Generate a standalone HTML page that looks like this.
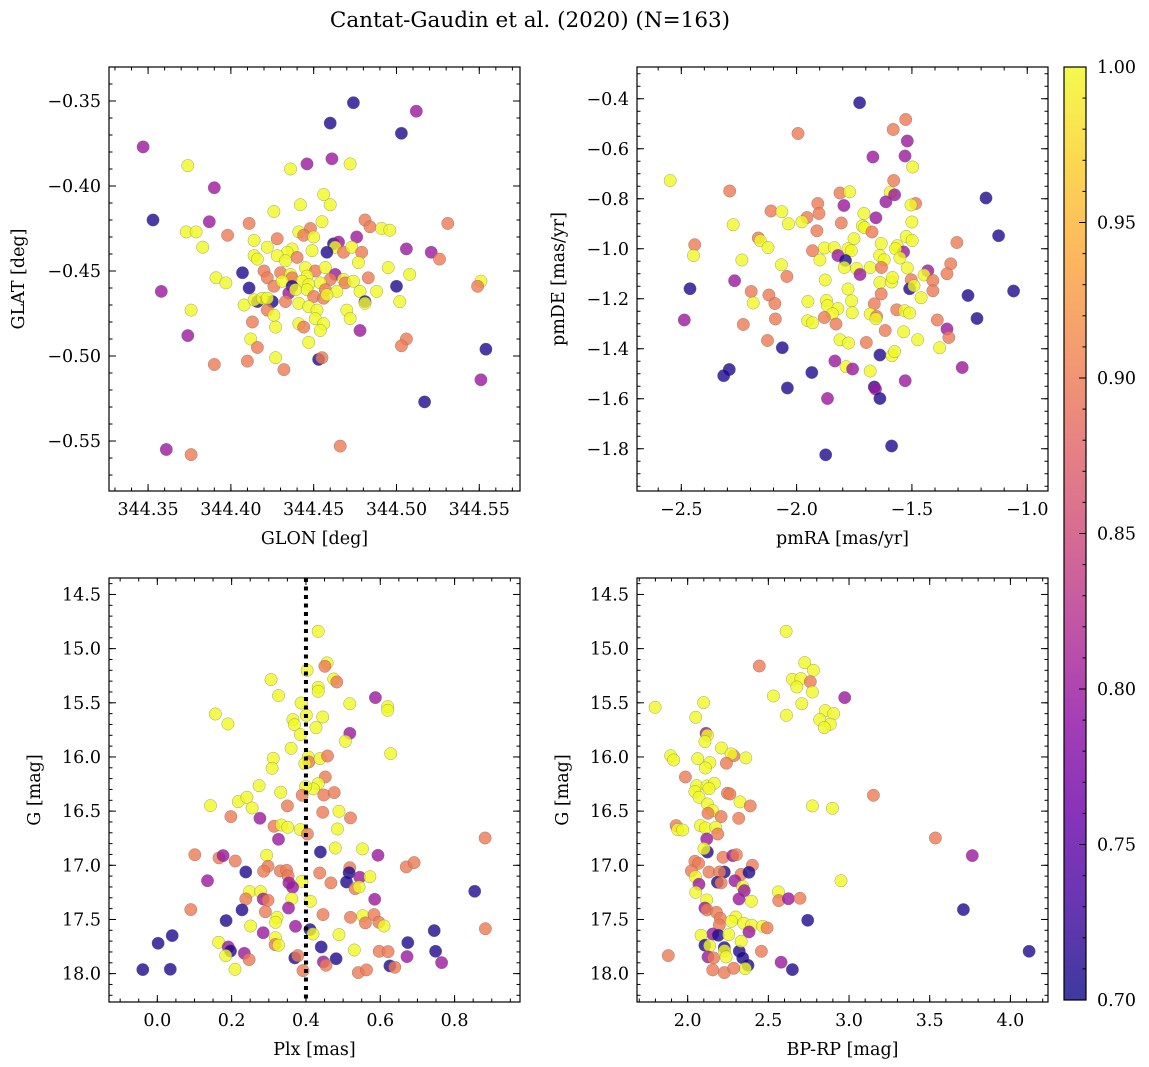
<!DOCTYPE html>
<html><head><meta charset="utf-8"><style>
html,body{margin:0;padding:0;background:#fff;}
svg{display:block;font-family:"DejaVu Serif","Liberation Serif",serif;}
</style></head><body>
<svg id="fig" xmlns="http://www.w3.org/2000/svg" width="1149" height="1067" viewBox="0 0 1149 1067">
<rect width="1149" height="1067" fill="#fff"/>
<text x="530" y="27" font-size="21.5" text-anchor="middle">Cantat-Gaudin et al. (2020) (N=163)</text>
<g id="layer"></g>
</svg>
<script>
// ---- Panel 1: GLON / GLAT ----
const p1Glon = [344.474,344.512,344.460,344.503,344.347,344.374,344.446,344.461,344.436,344.472,344.390,344.456,344.460,344.442,344.426,344.353,344.387,344.411,344.455,344.481,344.484,344.531,344.373,344.379,344.398,344.448,344.441,344.444,344.450,344.491,344.496,344.476,344.383,344.414,344.428,344.422,344.462,344.465,344.463,344.458,344.468,344.473,344.479,344.506,344.521,344.526,344.437,344.434,344.449,344.414,344.416,344.428,344.433,344.440,344.477,344.495,344.407,344.420,344.422,344.430,344.436,344.445,344.451,344.457,344.446,344.437,344.443,344.391,344.397,344.463,344.468,344.460,344.469,344.474,344.483,344.508,344.551,344.549,344.411,344.358,344.426,344.431,344.437,344.447,344.454,344.457,344.446,344.464,344.478,344.488,344.500,344.435,344.439,344.450,344.456,344.458,344.416,344.425,344.408,344.414,344.419,344.422,344.433,344.441,344.447,344.481,344.481,344.502,344.422,344.452,344.470,344.376,344.426,344.451,344.472,344.413,344.427,344.441,344.444,344.456,344.454,344.374,344.478,344.412,344.416,344.447,344.506,344.503,344.554,344.390,344.410,344.427,344.453,344.455,344.432,344.551,344.517,344.361,344.376,344.466];
const p1Glat = [-0.351,-0.356,-0.363,-0.369,-0.377,-0.388,-0.387,-0.384,-0.390,-0.387,-0.401,-0.405,-0.411,-0.411,-0.415,-0.420,-0.421,-0.422,-0.421,-0.420,-0.424,-0.422,-0.427,-0.427,-0.429,-0.425,-0.427,-0.429,-0.430,-0.425,-0.426,-0.430,-0.436,-0.432,-0.431,-0.436,-0.434,-0.433,-0.436,-0.439,-0.439,-0.436,-0.439,-0.437,-0.439,-0.443,-0.437,-0.439,-0.438,-0.441,-0.443,-0.441,-0.444,-0.442,-0.445,-0.448,-0.451,-0.450,-0.454,-0.451,-0.452,-0.448,-0.450,-0.448,-0.453,-0.454,-0.456,-0.454,-0.457,-0.452,-0.455,-0.455,-0.457,-0.456,-0.454,-0.452,-0.456,-0.459,-0.460,-0.462,-0.459,-0.456,-0.459,-0.458,-0.457,-0.461,-0.461,-0.462,-0.462,-0.462,-0.459,-0.463,-0.461,-0.465,-0.466,-0.464,-0.468,-0.468,-0.470,-0.467,-0.466,-0.466,-0.468,-0.469,-0.471,-0.468,-0.469,-0.468,-0.473,-0.473,-0.473,-0.473,-0.476,-0.478,-0.478,-0.480,-0.483,-0.481,-0.483,-0.481,-0.485,-0.488,-0.485,-0.490,-0.495,-0.492,-0.490,-0.494,-0.496,-0.505,-0.503,-0.501,-0.502,-0.501,-0.508,-0.514,-0.527,-0.555,-0.558,-0.553];
const p1Prob = [.71,.80,.71,.71,.80,1,.80,.80,1,1,.80,1,1,1,1,.71,.80,.90,1,.90,.90,.90,1,1,.90,.90,1,.90,1,1,1,.80,1,1,.90,1,.71,.80,1,.71,.90,1,.90,.80,.80,.90,1,1,1,1,1,1,1,.90,1,1,.71,.90,.90,.90,1,1,.90,1,1,.90,1,1,1,.80,1,.90,.90,1,.90,1,1,.90,.71,.80,.90,1,.71,1,1,.90,1,1,1,1,.71,.80,1,.90,.90,1,.71,.71,1,1,1,1,.90,1,1,.71,1,1,.90,1,1,1,1,1,1,.90,1,1,.90,1,1,.80,.80,1,.90,1,.90,.90,.71,.90,.90,1,.71,.90,.90,.80,.71,.80,.90,.90];
const p1XTicks = [344.35,344.40,344.45,344.50,344.55];
const p1YTicks = [-0.35,-0.40,-0.45,-0.50,-0.55];

// ---- Panel 2: pmRA / pmDE ----
const p2PmRA = [-1.727,-1.527,-1.581,-1.994,-1.520,-1.669,-1.530,-1.497,-2.548,-1.579,-2.290,-1.812,-1.770,-1.594,-1.575,-1.613,-1.179,-1.908,-1.795,-1.484,-1.504,-2.111,-2.064,-1.903,-1.708,-1.955,-1.977,-2.035,-2.275,-1.806,-1.656,-1.500,-1.715,-1.705,-1.673,-1.912,-1.124,-2.442,-2.447,-2.166,-2.158,-2.124,-1.751,-1.633,-1.305,-1.525,-1.499,-1.564,-1.931,-1.879,-1.837,-1.777,-1.763,-1.536,-1.571,-1.640,-1.620,-1.552,-1.821,-1.788,-1.899,-2.237,-2.066,-1.793,-1.740,-1.681,-1.632,-1.520,-1.431,-1.447,-1.332,-1.348,-2.042,-1.725,-1.876,-1.639,-1.588,-1.584,-1.503,-1.409,-1.409,-2.462,-2.269,-1.510,-1.491,-1.460,-1.059,-1.257,-2.197,-2.120,-1.777,-1.633,-2.188,-2.094,-1.951,-1.871,-1.866,-1.821,-1.762,-1.759,-1.663,-1.566,-1.532,-1.510,-1.681,-1.653,-1.656,-1.845,-1.880,-1.952,-1.931,-2.092,-2.231,-2.487,-1.829,-1.390,-1.218,-1.348,-1.616,-1.536,-1.340,-2.126,-1.812,-1.775,-1.698,-1.475,-1.380,-2.062,-1.639,-1.587,-1.575,-1.834,-2.292,-2.316,-1.786,-1.757,-1.934,-1.681,-1.282,-2.040,-1.663,-1.658,-1.529,-1.866,-1.639,-1.588,-1.874];
const p2PmDE = [-0.416,-0.483,-0.523,-0.539,-0.569,-0.633,-0.629,-0.673,-0.727,-0.727,-0.769,-0.777,-0.772,-0.775,-0.784,-0.812,-0.797,-0.819,-0.827,-0.819,-0.825,-0.849,-0.852,-0.859,-0.859,-0.875,-0.892,-0.900,-0.904,-0.897,-0.876,-0.893,-0.909,-0.916,-0.933,-0.928,-0.948,-0.984,-1.027,-0.957,-0.968,-0.995,-0.960,-0.979,-0.975,-0.951,-0.967,-0.988,-1.008,-0.997,-0.996,-1.000,-1.008,-1.013,-1.000,-1.027,-1.044,-1.037,-1.027,-1.047,-1.045,-1.045,-1.064,-1.075,-1.079,-1.075,-1.075,-1.077,-1.088,-1.105,-1.060,-1.100,-1.111,-1.103,-1.125,-1.135,-1.133,-1.115,-1.124,-1.127,-1.168,-1.160,-1.128,-1.160,-1.148,-1.196,-1.169,-1.187,-1.171,-1.185,-1.161,-1.181,-1.217,-1.219,-1.211,-1.207,-1.228,-1.239,-1.208,-1.256,-1.220,-1.244,-1.248,-1.257,-1.261,-1.271,-1.280,-1.260,-1.275,-1.288,-1.296,-1.281,-1.303,-1.285,-1.301,-1.285,-1.279,-1.321,-1.327,-1.332,-1.355,-1.367,-1.364,-1.377,-1.375,-1.364,-1.396,-1.396,-1.425,-1.428,-1.411,-1.449,-1.483,-1.508,-1.472,-1.481,-1.495,-1.489,-1.475,-1.557,-1.553,-1.561,-1.528,-1.599,-1.599,-1.789,-1.824];
const p2Prob = [.71,.90,.90,.90,.80,.80,.80,1,1,.90,.90,.90,1,1,.80,.80,.71,.90,.80,.90,1,.90,1,.90,1,.90,1,1,1,.90,.80,1,1,1,.90,.90,.71,.90,1,.90,1,1,1,1,.90,1,1,1,.90,1,1,1,1,.80,1,1,1,1,.80,.71,1,1,1,1,1,1,.90,1,.80,1,.90,.90,.90,.80,1,1,1,1,.90,.90,.90,.71,.80,.71,1,1,.71,.71,.90,.90,1,.90,1,.90,1,1,1,1,1,1,.90,.90,1,1,1,.90,1,1,.90,1,1,.90,.90,.80,.90,.90,.71,.80,.90,1,.90,.90,1,1,.90,1,1,.71,.71,1,1,.80,.71,.71,1,.80,.71,1,.80,.71,.71,.80,.80,.80,.71,.71,.71];
const p2XTicks = [-2.5,-2.0,-1.5,-1.0];
const p2YTicks = [-0.4,-0.6,-0.8,-1.0,-1.2,-1.4,-1.6,-1.8];

// ---- Panel 3: Plx / G ----
const p3Plx = [0.433,0.457,0.451,0.403,0.306,0.475,0.483,0.433,0.433,0.326,0.587,0.387,0.518,0.620,0.620,0.156,0.401,0.445,0.190,0.365,0.369,0.427,0.385,0.518,0.506,0.360,0.628,0.312,0.309,0.406,0.408,0.438,0.458,0.397,0.452,0.433,0.420,0.399,0.274,0.332,0.448,0.476,0.390,0.143,0.218,0.241,0.255,0.350,0.445,0.489,0.198,0.276,0.520,0.314,0.334,0.351,0.385,0.404,0.485,0.326,0.882,0.439,0.479,0.552,0.594,0.101,0.166,0.177,0.210,0.294,0.298,0.286,0.238,0.331,0.348,0.352,0.437,0.518,0.516,0.670,0.691,0.135,0.389,0.467,0.509,0.545,0.572,0.354,0.364,0.532,0.543,0.854,0.248,0.278,0.238,0.285,0.298,0.362,0.412,0.585,0.090,0.228,0.291,0.353,0.446,0.520,0.553,0.560,0.583,0.596,0.610,0.322,0.318,0.185,0.251,0.372,0.411,0.419,0.285,0.745,0.883,0.040,0.002,0.165,0.318,0.317,0.326,0.489,0.441,0.530,0.674,0.749,0.597,0.621,0.191,0.197,0.184,0.234,0.247,0.370,0.378,0.481,0.447,0.454,0.672,0.765,0.626,0.639,-0.039,0.035,0.209,0.392,0.541,0.563];
const p3G = [14.840,15.132,15.163,15.200,15.286,15.280,15.308,15.357,15.394,15.434,15.452,15.502,15.508,15.535,15.569,15.603,15.615,15.631,15.695,15.655,15.702,15.729,15.794,15.782,15.855,15.920,15.969,16.012,16.105,16.000,16.046,16.015,15.991,16.062,16.185,16.246,16.295,16.274,16.265,16.326,16.351,16.329,16.354,16.449,16.412,16.372,16.471,16.452,16.511,16.502,16.551,16.566,16.563,16.640,16.628,16.649,16.671,16.711,16.665,16.760,16.748,16.877,16.840,16.849,16.908,16.902,16.932,16.911,16.960,16.908,17.009,17.055,17.062,17.052,17.046,17.098,17.071,17.022,17.068,17.015,16.975,17.142,17.148,17.163,17.154,17.111,17.105,17.163,17.203,17.215,17.200,17.240,17.243,17.243,17.311,17.311,17.323,17.308,17.332,17.314,17.409,17.412,17.428,17.394,17.455,17.480,17.465,17.532,17.455,17.526,17.560,17.480,17.526,17.511,17.560,17.563,17.594,17.634,17.622,17.603,17.585,17.649,17.720,17.711,17.668,17.732,17.738,17.640,17.754,17.782,17.714,17.794,17.794,17.797,17.754,17.791,17.834,17.812,17.871,17.855,17.834,17.862,17.892,17.923,17.843,17.898,17.929,17.942,17.963,17.960,17.960,17.972,17.991,17.966];
const p3Prob = [1,1,.90,1,1,1,.90,1,1,1,.80,1,1,1,1,1,1,1,1,1,1,1,1,.80,1,1,1,1,1,1,.90,1,.90,1,.90,1,1,1,1,1,.90,.90,.90,1,1,1,1,.90,.90,1,.90,.80,.90,.90,1,1,1,.90,1,.80,.90,.71,1,1,.80,.90,.90,.80,.90,1,.90,.90,.71,.90,.90,.90,.90,.90,.71,.90,.90,.80,1,.90,.71,.80,1,.80,.80,.90,1,.71,1,1,.90,.80,.90,1,1,.80,.90,.71,.90,.80,.90,.90,1,.90,.90,.90,1,1,1,.71,1,.80,.71,1,.80,.71,.90,.71,.71,1,1,.90,1,1,.71,1,.71,.71,.90,.90,.80,.71,1,.80,.90,.71,.90,.71,.80,.90,.80,.80,.71,.90,.71,.71,1,.90,.90,.90];
const p3XTicks = [0.0,0.2,0.4,0.6,0.8];
const p3YTicks = [14.5,15.0,15.5,16.0,16.5,17.0,17.5,18.0];
const p3PlxRef = [0.4];

// ---- Panel 4: BP-RP / G ----
const p4Color = [2.610,2.444,2.725,2.779,2.649,2.702,2.760,2.676,2.773,2.531,2.973,1.798,2.099,2.707,2.612,2.853,2.905,2.818,2.884,2.847,2.050,2.114,2.122,2.107,2.209,2.285,2.269,2.360,1.895,1.913,2.062,2.138,2.110,2.240,1.986,2.056,2.120,2.165,2.045,2.070,2.132,2.246,2.262,2.324,2.388,2.122,2.155,2.126,2.207,2.316,3.151,2.773,2.897,1.928,1.938,1.969,2.079,2.110,2.174,2.186,2.118,2.122,2.101,2.219,2.279,2.302,2.045,2.068,2.023,2.132,2.227,2.198,2.401,2.331,2.380,2.048,2.070,2.184,2.207,2.293,2.341,2.351,2.050,2.118,2.318,2.395,2.107,2.120,2.178,2.202,2.196,2.298,2.271,2.347,2.397,2.465,2.492,2.380,2.155,2.190,2.083,2.254,2.744,2.562,2.564,2.624,2.696,2.950,3.535,3.764,3.709,4.116,2.107,2.136,2.227,2.229,2.320,2.331,2.457,2.126,2.161,2.238,2.341,2.374,2.357,2.155,2.227,2.285,1.880,2.579,2.649];
const p4G = [14.840,15.160,15.129,15.200,15.283,15.277,15.305,15.354,15.400,15.437,15.452,15.542,15.498,15.508,15.615,15.572,15.600,15.655,15.698,15.729,15.634,15.782,15.800,15.858,15.917,15.988,15.972,16.009,15.988,16.028,16.015,16.052,16.102,16.058,16.185,16.265,16.268,16.243,16.320,16.372,16.292,16.335,16.342,16.415,16.452,16.434,16.495,16.520,16.551,16.566,16.354,16.452,16.474,16.634,16.671,16.674,16.634,16.655,16.649,16.711,16.757,16.877,16.846,16.926,16.911,16.902,16.963,16.982,17.052,17.062,17.062,17.062,17.000,17.083,17.065,17.105,17.175,17.157,17.163,17.142,17.197,17.234,17.249,17.320,17.311,17.332,17.394,17.412,17.434,17.489,17.551,17.477,17.517,17.535,17.554,17.563,17.578,17.615,17.634,17.646,17.646,17.640,17.508,17.246,17.326,17.308,17.305,17.142,16.748,16.911,17.409,17.794,17.738,17.742,17.760,17.788,17.794,17.702,17.794,17.846,17.855,17.846,17.855,17.923,17.954,17.966,17.991,17.951,17.834,17.895,17.963];
const p4Prob = [1,.90,1,1,1,1,.90,1,1,1,.80,1,1,1,1,1,1,1,1,1,1,.80,1,1,1,.90,1,1,1,1,1,1,1,.90,.90,1,1,1,1,1,1,.90,.90,1,.90,1,1,.90,.90,.90,.90,1,1,.90,1,1,1,1,1,.90,.80,.71,1,.90,.80,.90,.90,.90,.90,.90,.71,.90,.90,.90,.71,1,.80,.71,.90,.80,1,.80,1,1,.80,1,.80,.90,.90,.90,.90,1,1,1,1,1,.90,.80,.80,.71,1,1,.71,1,.90,.80,.90,1,.90,.80,.71,.71,.71,1,.71,1,.71,1,.90,.80,.90,1,.71,.71,1,.90,.90,.90,.90,.80,.71];
const p4XTicks = [2.0,2.5,3.0,3.5,4.0];
const p4YTicks = [14.5,15.0,15.5,16.0,16.5,17.0,17.5,18.0];

// ---- Colorbar ----
const cbTicks = [0.70,0.75,0.80,0.85,0.90,0.95,1.00];

const NS = 'http://www.w3.org/2000/svg';
const layer = document.getElementById('layer');
const plasma = ['#0d0887','#41049d','#6a00a8','#8f0da4','#b12a90','#cc4778','#e16462','#f2844b','#fca636','#fcce25','#f0f921'];
function hex(c){return [parseInt(c.slice(1,3),16),parseInt(c.slice(3,5),16),parseInt(c.slice(5,7),16)];}
function cmap(p){
  let t=(p-0.7)/0.3; t=Math.max(0,Math.min(1,t));
  const f=t*10, i=Math.min(9,Math.floor(f)), r=f-i;
  const a=hex(plasma[i]), b=hex(plasma[i+1]);
  return 'rgb('+a.map((v,k)=>Math.round(v+(b[k]-v)*r)).join(',')+')';
}
function mk(tag, attrs, parent){
  const e=document.createElementNS(NS,tag);
  for(const k in attrs) e.setAttribute(k,attrs[k]);
  (parent||layer).appendChild(e); return e;
}
function fmt(v,d){return (v<0?'\u2212':'')+Math.abs(v).toFixed(d);}

function panel(c){
  const g=mk('g',{});
  
  
  const sx=v=>c.left+(v-c.x0)/(c.x1-c.x0)*c.w;
  const sy=v=>c.top+(v-c.y0)/(c.y1-c.y0)*c.h;
  const pts=mk('g',{},g);
  
  
  const n=Math.min(c.xs.length,c.ys.length,c.ps.length);
  for(let i=0;i<n;i++){
    const cx=sx(c.xs[i]), cy=sy(c.ys[i]);
    const dot=mk('circle',{cx:cx.toFixed(1),cy:cy.toFixed(1),r:6.2,fill:cmap(c.ps[i]),'fill-opacity':0.8,stroke:'#666','stroke-opacity':0.6,'stroke-width':0.5},pts);
    
    
  }
  if(c.vline){
    for(const v of c.vline){
      const ln=mk('line',{x1:sx(v),x2:sx(v),y1:c.top,y2:c.top+c.h,stroke:'#000','stroke-width':4,'stroke-dasharray':'4 4.5'},g);
      
      
    }
  }
  const fr=mk('rect',{x:c.left,y:c.top,width:c.w,height:c.h,fill:'none',stroke:'#000','stroke-width':1.2},g);
  
  
  const tk=mk('g',{stroke:'#000','stroke-width':1},g);
  
  
  const xlo=Math.min(c.x0,c.x1), xhi=Math.max(c.x0,c.x1), ylo=Math.min(c.y0,c.y1), yhi=Math.max(c.y0,c.y1);
  for(let k=Math.ceil(xlo/c.xm-1e-6);k*c.xm<=xhi+1e-9;k++){
    const X=sx(k*c.xm);
    mk('line',{x1:X,x2:X,y1:c.top+c.h,y2:c.top+c.h-3.5},tk); mk('line',{x1:X,x2:X,y1:c.top,y2:c.top+3.5},tk);
  }
  for(let k=Math.ceil(ylo/c.ym-1e-6);k*c.ym<=yhi+1e-9;k++){
    const Y=sy(k*c.ym);
    mk('line',{x1:c.left,x2:c.left+3.5,y1:Y,y2:Y},tk); mk('line',{x1:c.left+c.w,x2:c.left+c.w-3.5,y1:Y,y2:Y},tk);
  }
  const lb=mk('g',{'font-size':17.5,fill:'#000'},g);
  for(const v of c.xt){
    const X=sx(v);
    mk('line',{x1:X,x2:X,y1:c.top+c.h,y2:c.top+c.h-7},tk); mk('line',{x1:X,x2:X,y1:c.top,y2:c.top+7},tk);
    const t=mk('text',{x:X,y:c.top+c.h+24,'text-anchor':'middle'},lb); t.textContent=fmt(v,c.xd);
    
    
  }
  for(const v of c.yt){
    const Y=sy(v);
    mk('line',{x1:c.left,x2:c.left+7,y1:Y,y2:Y},tk); mk('line',{x1:c.left+c.w,x2:c.left+c.w-7,y1:Y,y2:Y},tk);
    const t=mk('text',{x:c.left-8,y:Y+6,'text-anchor':'end'},lb); t.textContent=fmt(v,c.yd);
    
    
  }
  const xl=mk('text',{x:c.left+c.w/2,y:c.top+c.h+53,'text-anchor':'middle'},lb); xl.textContent=c.xlabel;
  
  
  const yl=mk('text',{x:0,y:0,'text-anchor':'middle',transform:'translate('+c.ylx+','+(c.top+c.h/2)+') rotate(-90)'},lb); yl.textContent=c.ylabel;
  
  
}

panel({name:'position-panel',left:109,top:67,w:411,h:424,x0:344.3264,x1:344.5746,y0:-0.33,y1:-0.5794,xm:0.01,ym:0.01,xt:p1XTicks,yt:p1YTicks,xd:2,yd:2,xs:p1Glon,ys:p1Glat,ps:p1Prob,xlabel:'GLON [deg]',ylabel:'GLAT [deg]',ylx:24});
panel({name:'proper-motion-panel',left:637,top:67,w:411,h:424,x0:-2.692,x1:-0.910,y0:-0.273,y1:-1.969,xm:0.1,ym:0.05,xt:p2XTicks,yt:p2YTicks,xd:1,yd:1,xs:p2PmRA,ys:p2PmDE,ps:p2Prob,xlabel:'pmRA [mas/yr]',ylabel:'pmDE [mas/yr]',ylx:564});
panel({name:'parallax-panel',left:109,top:578,w:411,h:424,x0:-0.130,x1:0.976,y0:14.348,y1:18.262,xm:0.05,ym:0.1,xt:p3XTicks,yt:p3YTicks,xd:1,yd:1,xs:p3Plx,ys:p3G,ps:p3Prob,xlabel:'Plx [mas]',ylabel:'G [mag]',ylx:40,vline:p3PlxRef});
panel({name:'cmd-panel',left:637,top:578,w:411,h:424,x0:1.686,x1:4.233,y0:14.348,y1:18.262,xm:0.1,ym:0.1,xt:p4XTicks,yt:p4YTicks,xd:1,yd:1,xs:p4Color,ys:p4G,ps:p4Prob,xlabel:'BP-RP [mag]',ylabel:'G [mag]',ylx:568});

(function(){
  const L=1064,T=67,W=22,H=933, pmin=0.70, pmax=1.00;
  const sy=v=>T+(pmax-v)/(pmax-pmin)*H;
  const defs=mk('defs',{});
  const gr=mk('linearGradient',{id:'cbg',x1:0,y1:1,x2:0,y2:0},defs);
  for(let i=0;i<=20;i++){ mk('stop',{offset:(i/20),'stop-color':cmap(pmin+(pmax-pmin)*i/20)},gr); }
  const g=mk('g',{});
  
  
  mk('rect',{x:L,y:T,width:W,height:H,fill:'url(#cbg)','fill-opacity':0.8},g);
  mk('rect',{x:L,y:T,width:W,height:H,fill:'none',stroke:'#000','stroke-width':1.2},g);
  for(let k=70;k<=100;k++){ const Y=sy(k/100); mk('line',{x1:L+W,x2:L+W-3.5,y1:Y,y2:Y,stroke:'#000'},g); }
  for(const v of cbTicks){
    const Y=sy(v);
    mk('line',{x1:L+W,x2:L+W-7,y1:Y,y2:Y,stroke:'#000'},g);
    const t=mk('text',{x:L+W+11,y:Y+6,'font-size':17.5},g); t.textContent=v.toFixed(2);
    
    
  }
})();
</script>
</body></html>
